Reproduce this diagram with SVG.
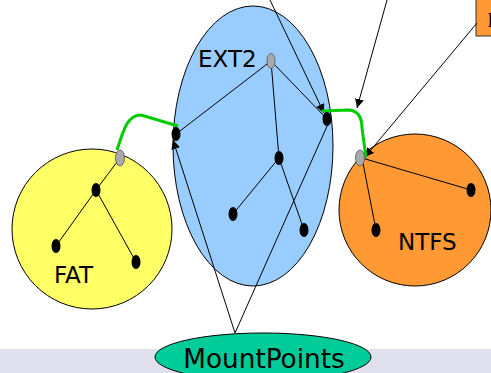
<svg xmlns="http://www.w3.org/2000/svg" width="491" height="373" viewBox="0 0 491 373">
<style>
.lbl{font-family:"DejaVu Sans",Verdana,sans-serif;fill:#000}
.dot{fill:#000}
.mnt{fill:#aaa;stroke:#555;stroke-width:0.8}
.edge{stroke:#000;stroke-width:1;fill:none}
.green{stroke:#00cc00;stroke-width:3;fill:none;stroke-linecap:butt}
.shape{stroke:#000;stroke-width:1}
</style>
<defs>
<marker id="ah" viewBox="0 0 10 10" refX="10" refY="5" markerWidth="9" markerHeight="9" markerUnits="userSpaceOnUse" orient="auto">
<path d="M0,0 L10,5 L0,10 z" fill="#000"/>
</marker>
</defs>
<rect x="0" y="349" width="491" height="24" fill="#e0e0ee"/>
<g id="fat">
<circle cx="92" cy="229" r="80" class="shape" fill="#ffff66"/>
<text class="lbl" x="54" y="283" font-size="23">FAT</text>
</g>
<g id="ext2">
<ellipse cx="253" cy="146" rx="80" ry="140" class="shape" fill="#99ccff"/>
<text class="lbl" x="198" y="67" font-size="23">EXT2</text>
</g>
<g id="ntfs">
<circle cx="415" cy="210" r="76" class="shape" fill="#ff9933"/>
<text class="lbl" x="398" y="250" font-size="23">NTFS</text>
</g>
<g id="mountpoints">
<ellipse cx="263" cy="357" rx="108" ry="24" class="shape" fill="#00cc99"/>
<text class="lbl" x="264" y="368" font-size="26.3" text-anchor="middle">MountPoints</text>
</g>
<g id="label-box">
<rect x="476" y="-1" width="20" height="37" fill="#ff9933" stroke="#333" stroke-width="1"/>
<text x="487" y="27" font-family="'Liberation Serif',serif" font-size="22" fill="#000">I</text>
</g>
<g id="connectors">
<line class="edge" x1="271" y1="61" x2="176" y2="134"/>
<line class="edge" x1="271" y1="61" x2="327" y2="119"/>
<line class="edge" x1="271" y1="61" x2="279" y2="158"/>
<line class="edge" x1="279" y1="158" x2="233" y2="214"/>
<line class="edge" x1="279" y1="158" x2="304" y2="230"/>
<line class="edge" x1="120" y1="158" x2="96" y2="190"/>
<line class="edge" x1="96" y1="190" x2="56" y2="246"/>
<line class="edge" x1="96" y1="190" x2="136" y2="262"/>
<line class="edge" x1="362" y1="158" x2="471" y2="190"/>
<line class="edge" x1="362" y1="158" x2="376" y2="230"/>
<line class="edge" x1="270" y1="0" x2="324" y2="113" marker-end="url(#ah)"/>
<line class="edge" x1="387" y1="0" x2="357" y2="108" marker-end="url(#ah)"/>
<line class="edge" x1="477" y1="23" x2="365" y2="157" marker-end="url(#ah)"/>
<line class="edge" x1="235" y1="333" x2="173" y2="140" marker-end="url(#ah)"/>
<line class="edge" x1="235" y1="333" x2="328" y2="124"/>
<path class="green" d="M117,150 C124,128 128,115 141,115 L178,126"/>
<path class="green" d="M322,111 L349,110 C359,111 362,118 362,128 L366,158"/>
</g>
<g id="ext2-nodes">
<ellipse class="mnt" cx="271" cy="61" rx="4" ry="7.5"/>
<ellipse class="dot" cx="176" cy="134" rx="4.5" ry="7"/>
<ellipse class="dot" cx="327" cy="119" rx="4.5" ry="7"/>
<ellipse class="dot" cx="279" cy="158" rx="4.5" ry="7"/>
<ellipse class="dot" cx="233" cy="214" rx="4.5" ry="7"/>
<ellipse class="dot" cx="304" cy="230" rx="4.5" ry="7"/>
</g>
<g id="fat-nodes">
<ellipse class="mnt" cx="120" cy="158" rx="4.5" ry="8"/>
<ellipse class="dot" cx="96" cy="190" rx="4.5" ry="7"/>
<ellipse class="dot" cx="56" cy="246" rx="4.5" ry="7"/>
<ellipse class="dot" cx="136" cy="262" rx="4.5" ry="7"/>
</g>
<g id="ntfs-nodes">
<ellipse class="mnt" cx="360" cy="158" rx="4.5" ry="8"/>
<ellipse class="dot" cx="471" cy="190" rx="4.5" ry="7"/>
<ellipse class="dot" cx="376" cy="230" rx="4.5" ry="7"/>
</g>
</svg>
